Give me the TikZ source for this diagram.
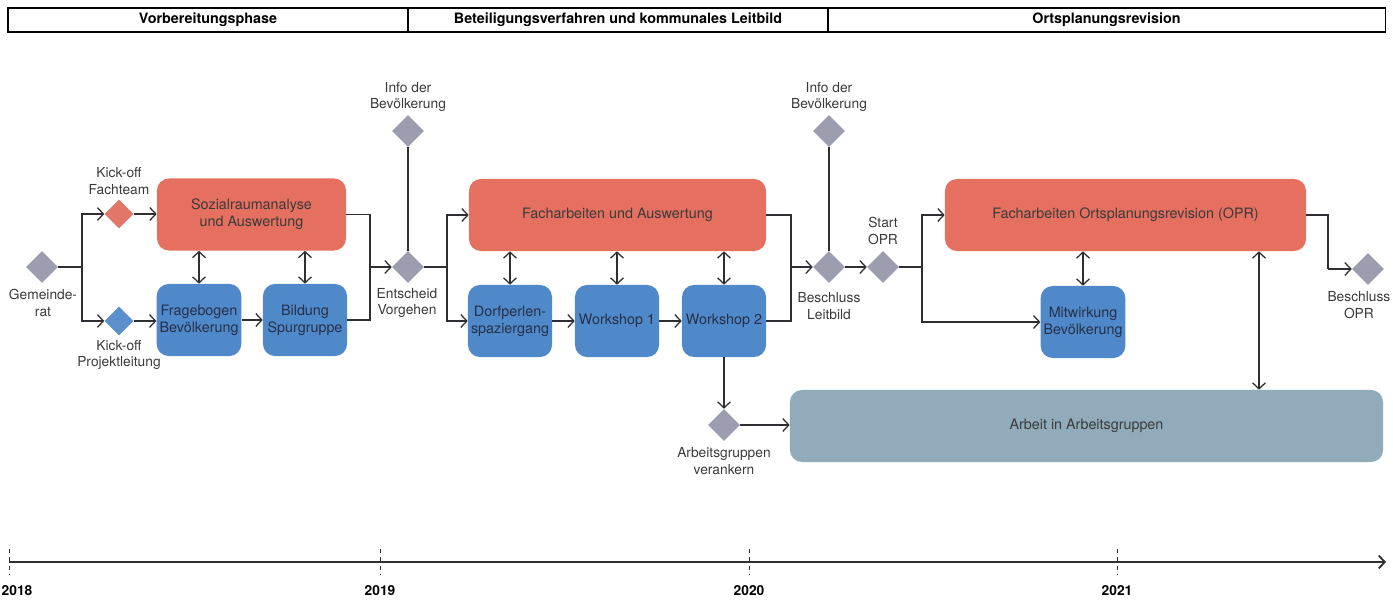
\documentclass[tikz,border=0pt]{standalone}
\usepackage{fontspec}
\setmainfont{TeX Gyre Heros}
\usetikzlibrary{shapes.geometric,arrows.meta}
\definecolor{rotbox}{HTML}{E5705F}
\definecolor{blaubox}{HTML}{4F89C9}
\definecolor{agbox}{HTML}{91ABBA}
\definecolor{grauraute}{HTML}{9C9EB0}
\definecolor{rotraute}{HTML}{E27668}
\definecolor{blauraute}{HTML}{5B90CC}
\definecolor{liniengrau}{HTML}{2E2E33}
\definecolor{textgrau}{HTML}{3A3A3A}
\definecolor{textblau}{HTML}{25304A}

\begin{document}
\begin{tikzpicture}[x=0.025cm,y=-0.025cm,
    >={Straight Barb[length=1.5mm,width=3.2mm]},
    every node/.style={font=\fontsize{9.8}{11.8}\selectfont,text=textgrau},
    box/.style={rectangle,rounded corners=0.3cm,minimum height=1.8cm,inner sep=2pt,align=center,font=\fontsize{10.2}{12}\selectfont},
    rot/.style={box,fill=rotbox},
    blau/.style={box,fill=blaubox,minimum width=2.1cm,text=textblau},
    raute/.style={diamond,fill=grauraute,minimum width=0.8cm,minimum height=0.8cm,inner sep=0pt},
    verb/.style={draw=liniengrau,line width=0.9pt},
    lbl/.style={align=center},
    phase/.style={draw=black,line width=0.8pt,minimum height=0.6cm,font=\fontsize{10.2}{12}\selectfont\bfseries,text=black},
    jahr/.style={font=\fontsize{9.8}{11}\selectfont\bfseries,text=black}]
    \useasboundingbox (0,0) rectangle (1393,604);

    \node[phase,minimum width=10cm] (ph1) at (208,20) {Vorbereitungsphase};
    \node[phase,minimum width=10.5cm] (ph2) at (618,20) {Beteiligungsverfahren und kommunales Leitbild};
    \node[phase,minimum width=13.925cm] (ph3) at (1106.5,20) {Ortsplanungsrevision};

    \node[rot,minimum width=4.725cm] (soz) at (251.5,214.5) {Sozialraumanalyse\\und Auswertung};
    \node[blau] (frage) at (199,320) {Fragebogen\\Bevölkerung};
    \node[blau] (spur) at (305,320) {Bildung\\Spurgruppe};
    \node[rot,minimum width=7.425cm] (fach) at (617.5,215) {Facharbeiten und Auswertung};
    \node[blau] (dorf) at (510,321) {Dorfperlen-\\spaziergang};
    \node[blau] (ws1) at (617,321) {Workshop 1};
    \node[blau] (ws2) at (724,321) {Workshop 2};
    \node[rot,minimum width=9.025cm] (opr) at (1125.5,215) {Facharbeiten Ortsplanungsrevision (OPR)};
    \node[blau] (mitw) at (1083,322) {Mitwirkung\\Bevölkerung};
    \node[box,fill=agbox,minimum width=14.825cm] (ag) at (1086.5,426) {Arbeit in Arbeitsgruppen};

    \node[raute] (gem) at (42,267) {};
    \node[raute,fill=rotraute,minimum width=0.72cm,minimum height=0.72cm] (kf) at (119,214) {};
    \node[raute,fill=blauraute,minimum width=0.72cm,minimum height=0.72cm] (kp) at (119,321) {};
    \node[raute] (ents) at (408,267) {};
    \node[raute] (info1) at (408,131) {};
    \node[raute] (bl) at (829,267) {};
    \node[raute] (info2) at (829,131) {};
    \node[raute] (sopr) at (883,267) {};
    \node[raute] (bopr) at (1368,269) {};
    \node[raute] (agv) at (724,425) {};

    \node[lbl] (lgem) at (43,303) {Gemeinde-\\rat};
    \node[lbl] (lkf) at (119,181) {Kick-off\\Fachteam};
    \node[lbl] (lkp) at (119,355) {Kick-off\\Projektleitung};
    \node[lbl] (lents) at (407,303) {Entscheid\\Vorgehen};
    \node[lbl] (linfo1) at (408,97) {Info der\\Bevölkerung};
    \node[lbl] (linfo2) at (829,97) {Info der\\Bevölkerung};
    \node[lbl] (lbl1) at (829,306) {Beschluss\\Leitbild};
    \node[lbl] (lsopr) at (883,231) {Start\\OPR};
    \node[lbl,anchor=east,inner sep=1pt] (lbopr) at (1392,305) {Beschluss\\OPR};
    \node[lbl] (lagv) at (724,461) {Arbeitsgruppen\\verankern};

    \coordinate (v1) at (82,267);
    \coordinate (v2) at (370,267);
    \coordinate (v3) at (447,267);
    \coordinate (v4) at (791,267);
    \coordinate (v5) at (922,267);
    \coordinate (v6) at (1259,0);
    \coordinate (v7) at (1328,269);

    \draw[verb] (gem) -- (v1);
    \draw[verb,->] (v1) |- (kf);
    \draw[verb,->] (v1) |- (kp);
    \draw[verb,->] (kf) -- (kf -| soz.west);
    \draw[verb,->] (kp) -- (kp -| frage.west);
    \draw[verb,<->] (frage.north) -- (frage.north |- soz.south);
    \draw[verb,<->] (spur.north) -- (spur.north |- soz.south);
    \draw[verb,->] (frage) -- (spur);
    \draw[verb] (soz.east) -| (v2);
    \draw[verb] (spur.east) -| (v2);
    \draw[verb,->] (v2) -- (ents);
    \draw[verb] (info1) -- (ents);

    \draw[verb] (ents) -- (v3);
    \draw[verb,->] (v3) |- (fach.west);
    \draw[verb,->] (v3) |- (dorf.west);
    \draw[verb,<->] (dorf.north) -- (dorf.north |- fach.south);
    \draw[verb,<->] (ws1.north) -- (ws1.north |- fach.south);
    \draw[verb,<->] (ws2.north) -- (ws2.north |- fach.south);
    \draw[verb,->] (dorf) -- (ws1);
    \draw[verb,->] (ws1) -- (ws2);
    \draw[verb] (fach.east) -| (v4);
    \draw[verb] (ws2.east) -| (v4);
    \draw[verb,->] (v4) -- (bl);
    \draw[verb] (info2) -- (bl);
    \draw[verb,->] (ws2) -- (agv);
    \draw[verb,->] (agv) -- (agv -| ag.west);

    \draw[verb,->] (bl) -- (sopr);
    \draw[verb] (sopr) -- (v5);
    \draw[verb,->] (v5) |- (opr.west);
    \draw[verb,->] (v5) |- (mitw.west);
    \draw[verb,<->] (mitw.north) -- (mitw.north |- opr.south);
    \draw[verb,<->] (opr.south -| v6) -- (ag.north -| v6);
    \draw[verb] (opr.east) -| (v7);
    \draw[verb,->] (v7) -- (bopr);

    \coordinate (t0) at (9,562);
    \coordinate (t1) at (1386,562);
    \draw[liniengrau,line width=1.3pt,->] (t0) -- (t1);
    \foreach \x/\j in {9/2018,380/2019,749/2020,1117/2021} {
        \draw[liniengrau,dashed,line width=0.7pt] (\x,549) -- (\x,575);
    }
    \node[jahr,anchor=west,inner sep=1pt] (j2018) at (0,591) {2018};
    \foreach \x/\j in {380/2019,749/2020,1117/2021} {
        \node[jahr] (j\j) at (\x,591) {\j};
    }
\end{tikzpicture}
\end{document}
